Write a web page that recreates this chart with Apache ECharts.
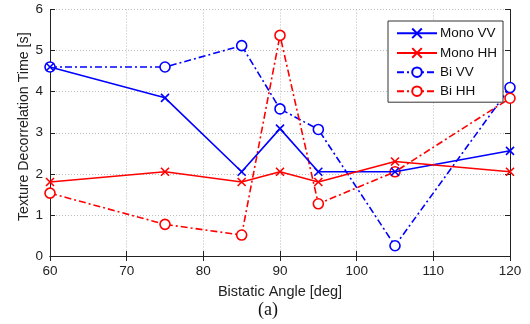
<!DOCTYPE html>
<html>
<head>
<meta charset="utf-8">
<script src="https://cdn.jsdelivr.net/npm/echarts@6/dist/echarts.min.js"></script>
<style>
  html, body { margin: 0; padding: 0; background: #fff; }
  #chart { width: 530px; height: 324px; }
</style>
</head>
<body>
<div id="chart"></div>
<script>
// bistatic angles (deg)
const angles = [60, 75, 85, 90, 95, 105, 120];

// texture decorrelation time [s]
const monoVV = [4.6, 3.85, 2.05, 3.1, 2.05, 2.05, 2.56];
const monoHH = [1.8, 2.05, 1.8, 2.05, 1.8, 2.3, 2.05];
const biVV = [4.6, 4.6, 5.12, 3.58, 3.08, 0.25, 4.1];
const biHH = [1.53, 0.77, 0.51, 5.37, 1.27, 2.05, 3.84];

const xTicks = [60, 70, 80, 90, 100, 110, 120];
const yTicks = [0, 1, 2, 3, 4, 5, 6];

const BLUE = '#0000ff';
const RED = '#ff0000';
const FONT = '"Liberation Sans", Arial, sans-serif';
const CROSS = 'path://M0,0L10,10M10,0L0,10';
const DASHDOT = [7, 3, 2, 3];

const pairs = (ys) => angles.map((x, i) => [x, ys[i]]);

const chart = echarts.init(document.getElementById('chart'));

// one series definition, plain vs. dash-dot + circle
function makeSeries(name, ys, color, dashed) {
    return {
        name: name,
        type: 'line',
        data: pairs(ys),
        symbol: dashed ? 'circle' : CROSS,
        symbolSize: dashed ? 10 : 8,
        showAllSymbol: true,
        lineStyle: { color: color, width: 1.6, type: dashed ? DASHDOT : 'solid' },
        itemStyle: { color: dashed ? '#fff' : 'none', borderColor: color, borderWidth: 1.6 },
        emphasis: { disabled: true },
        animation: false,
        z: dashed ? 3 : 4,
    };
}

const axisCommon = {
    type: 'value',
    axisLine: { show: true, lineStyle: { color: '#222', width: 1 } },
    axisTick: { show: true, inside: true, length: 5, lineStyle: { color: '#222' } },
    splitLine: { show: false },
};

const option = {
    backgroundColor: '#fff',
    grid: { left: 50, right: 20, top: 9.5, bottom: 68 },
    legend: {
        data: ['Mono VV', 'Mono HH', 'Bi VV', 'Bi HH'],
        orient: 'vertical',
        left: 388,
        top: 21,
        width: 110,
        padding: [5, 6, 4, 8],
        itemGap: 5,
        itemWidth: 40,
        itemHeight: 12,
        backgroundColor: '#fff',
        borderColor: '#333',
        borderWidth: 1,
        borderRadius: 0,
        textStyle: { fontFamily: FONT, fontSize: 13.5, color: '#111', padding: [0, 0, 0, -2] },
    },
    xAxis: [
        {
            ...axisCommon,
            min: 60, max: 120, interval: 10,
            name: 'Bistatic Angle [deg]',
            nameLocation: 'middle',
            nameGap: 28,
            nameTextStyle: { fontFamily: FONT, fontSize: 14.5, color: '#222' },
            axisLabel: {
                fontFamily: FONT, fontSize: 13.5, color: '#222', margin: 8,
                formatter: (v) => xTicks.includes(v) ? String(v) : '',
            },
            splitLine: { show: true, lineStyle: { color: '#bbb', type: [1, 2], width: 1 } },
        },
        {
            ...axisCommon,
            position: 'top',
            min: 60, max: 120, interval: 10,
            axisLabel: { show: false },
        },
    ],
    yAxis: [
        {
            ...axisCommon,
            min: 0, max: 6, interval: 1,
            name: 'Texture Decorrelation Time [s]',
            nameLocation: 'middle',
            nameGap: 19,
            nameMoveOverlap: false,
            nameTextStyle: { fontFamily: FONT, fontSize: 14.2, color: '#222', padding: [0, 0, 0, 12] },
            axisLabel: {
                fontFamily: FONT, fontSize: 13.5, color: '#222', margin: 7,
                formatter: (v) => yTicks.includes(v) ? String(v) : '',
            },
            splitLine: { show: true, lineStyle: { color: '#bbb', type: [1, 2], width: 1 } },
        },
        {
            ...axisCommon,
            position: 'right',
            min: 0, max: 6, interval: 1,
            axisLabel: { show: false },
        },
    ],
    series: [
        makeSeries('Mono VV', monoVV, BLUE, false),
        makeSeries('Mono HH', monoHH, RED, false),
        makeSeries('Bi VV', biVV, BLUE, true),
        makeSeries('Bi HH', biHH, RED, true),
    ],
    graphic: [
        {
            type: 'text',
            left: 258,
            top: 301,
            style: { text: '(a)', font: '18px "Liberation Serif", "Times New Roman", serif', fill: '#111' },
        },
    ],
};

chart.setOption(option);
</script>
</body>
</html>
